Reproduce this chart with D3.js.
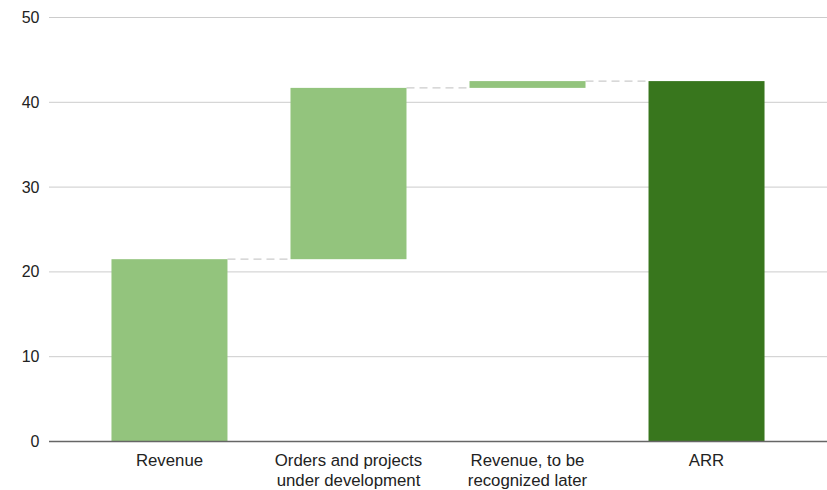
<!DOCTYPE html>
<html>
<head>
<meta charset="utf-8">
<script src="https://cdn.jsdelivr.net/npm/d3@7"></script>
<style>
  body { margin: 0; background: #fff; }
  text { font-family: "Liberation Sans", Arial, sans-serif; }
</style>
</head>
<body>
<div id="chart"></div>
<script>
// data
var categories = ["Revenue", "Orders and projects|under development", "Revenue, to be|recognized later", "ARR"];
var changes = [21.5, 20.2, 0.8, 42.5];
var isTotal = [false, false, false, true];
var yTicks = [0, 10, 20, 30, 40, 50];

var width = 827, height = 490;
var plotLeft = 49, plotRight = 827, plotTop = 17.5, plotBottom = 441.5;

var svg = d3.select("#chart").append("svg").attr("width", width).attr("height", height);

var x = d3.scaleBand().domain(categories).range([plotLeft, plotRight])
  .paddingInner(0.352).paddingOuter(0.349);
var y = d3.scaleLinear().domain([0, 50]).range([plotBottom, plotTop]);

// waterfall rows
var run = 0;
var rows = categories.map(function (c, i) {
  var start, end;
  if (isTotal[i]) { start = 0; end = changes[i]; run = end; }
  else { start = run; end = run + changes[i]; run = end; }
  return { cat: c, start: start, end: end, total: isTotal[i] };
});

// gridlines
svg.append("g").selectAll("line").data(yTicks.filter(function (d) { return d > 0; }))
  .enter().append("line")
  .attr("x1", plotLeft).attr("x2", plotRight)
  .attr("y1", function (d) { return y(d); }).attr("y2", function (d) { return y(d); })
  .attr("stroke", "#cccccc").attr("stroke-width", 1);

// tick labels
svg.append("g").selectAll("text").data(yTicks).enter().append("text")
  .attr("x", 39.5).attr("y", function (d) { return y(d) + 5.5; })
  .attr("text-anchor", "end").attr("font-size", "16px").attr("fill", "#222")
  .text(function (d) { return d; });

// connectors
svg.append("g").selectAll("line").data(rows.slice(0, -1)).enter().append("line")
  .attr("x1", function (d) { return x(d.cat) + x.bandwidth(); })
  .attr("x2", function (d, i) { return x(rows[i + 1].cat); })
  .attr("y1", function (d) { return y(d.end); })
  .attr("y2", function (d) { return y(d.end); })
  .attr("stroke", "#cccccc").attr("stroke-width", 1.3).attr("stroke-dasharray", "8,5");

// bars
svg.append("g").selectAll("rect").data(rows).enter().append("rect")
  .attr("x", function (d) { return x(d.cat); })
  .attr("width", x.bandwidth())
  .attr("y", function (d) { return y(Math.max(d.start, d.end)); })
  .attr("height", function (d) { return Math.abs(y(d.start) - y(d.end)); })
  .attr("fill", function (d) { return d.total ? "#38761d" : "#93c47d"; });

// zero line
svg.append("line").attr("x1", plotLeft).attr("x2", plotRight)
  .attr("y1", y(0)).attr("y2", y(0))
  .attr("stroke", "#666666").attr("stroke-width", 1.3);

// category labels
var lab = svg.append("g").selectAll("text").data(categories).enter().append("text")
  .attr("text-anchor", "middle").attr("font-size", "16.8px").attr("fill", "#222")
  .attr("x", function (d) { return x(d) + x.bandwidth() / 2; })
  .attr("y", 466);
lab.each(function (d) {
  var parts = d.split("|");
  var t = d3.select(this);
  parts.forEach(function (p, i) {
    t.append("tspan").attr("x", x(d) + x.bandwidth() / 2).attr("dy", i === 0 ? 0 : 19.5).text(p);
  });
});
</script>
</body>
</html>
